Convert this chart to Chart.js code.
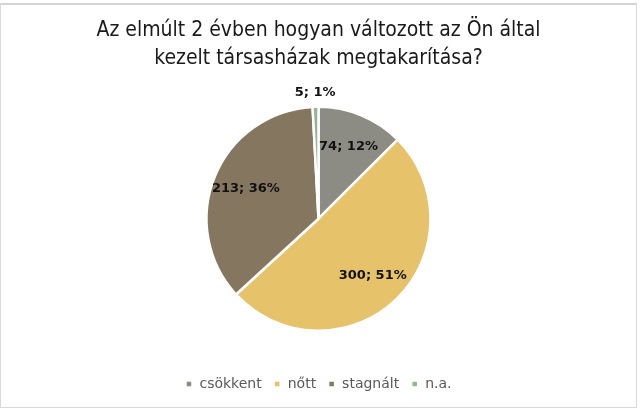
<!DOCTYPE html>
<html>
<head>
<meta charset="utf-8">
<script src="https://cdn.jsdelivr.net/npm/chart.js@4/dist/chart.umd.min.js"></script>
<style>
  html, body { margin: 0; padding: 0; background: #ffffff; }
  #wrap { position: absolute; left: 0; top: 3px; width: 637px; height: 405px; border: 1px solid #d9d9d9; border-top: 2px solid #d4d4d4; box-sizing: border-box; background: #fff; }
</style>
</head>
<body>
<div id="wrap"><canvas id="pieChart"></canvas></div>
<script>
// Chart data
const categories = ['csökkent', 'nőtt', 'stagnált', 'n.a.'];
const counts = [74, 300, 213, 5];
const percentLabels = ['12%', '51%', '36%', '1%'];
const sliceColors = ['#8c8c84', '#e6c36b', '#857660', '#8fb592'];

// Draws "value; percent" labels on the slices
const sliceLabels = {
    id: 'sliceLabels',
    afterDatasetsDraw(chart) {
        const ctx = chart.ctx;
        const meta = chart.getDatasetMeta(0);
        ctx.save();
        ctx.font = 'bold 13px "DejaVu Sans"';
        ctx.fillStyle = '#111111';
        ctx.textAlign = 'center';
        ctx.textBaseline = 'middle';
        meta.data.forEach((arc, i) => {
            const text = counts[i] + '; ' + percentLabels[i];
            const mid = (arc.startAngle + arc.endAngle) / 2;
            const small = (arc.endAngle - arc.startAngle) < 0.2;
            // tiny slices get their label outside the pie
            const r = small ? arc.outerRadius + 14 : arc.outerRadius * 0.7;
            ctx.fillText(text, arc.x + Math.cos(mid) * r, arc.y + Math.sin(mid) * r);
        });
        ctx.restore();
    }
};

const ctx = document.getElementById('pieChart').getContext('2d');
new Chart(ctx, {
    type: 'pie',
    data: {
        labels: categories,
        datasets: [{
            data: counts,
            backgroundColor: sliceColors,
            borderColor: '#ffffff',
            borderWidth: 2.5,
            radius: 112
        }]
    },
    options: {
        responsive: true,
        maintainAspectRatio: false,
        animation: false,
        layout: {
            padding: { top: 4, bottom: 6, left: 0, right: 0 }
        },
        plugins: {
            title: {
                display: true,
                text: ['Az elmúlt 2 évben hogyan változott az Ön által', 'kezelt társasházak megtakarítása?'],
                color: '#1a1a1a',
                font: { family: 'DejaVu Sans Condensed', size: 21, weight: 'normal', lineHeight: 1.32 },
                padding: { top: 8, bottom: 28 }
            },
            legend: {
                position: 'bottom',
                title: {
                    display: true,
                    text: ' ',
                    font: { size: 2, lineHeight: 1 },
                    padding: { top: 26, bottom: 0 }
                },
                labels: {
                    color: '#595959',
                    font: { family: 'DejaVu Sans', size: 14 },
                    boxWidth: 7,
                    boxHeight: 7,
                    padding: 12
                }
            },
            tooltip: { enabled: false }
        }
    },
    plugins: [sliceLabels]
});
</script>
</body>
</html>
